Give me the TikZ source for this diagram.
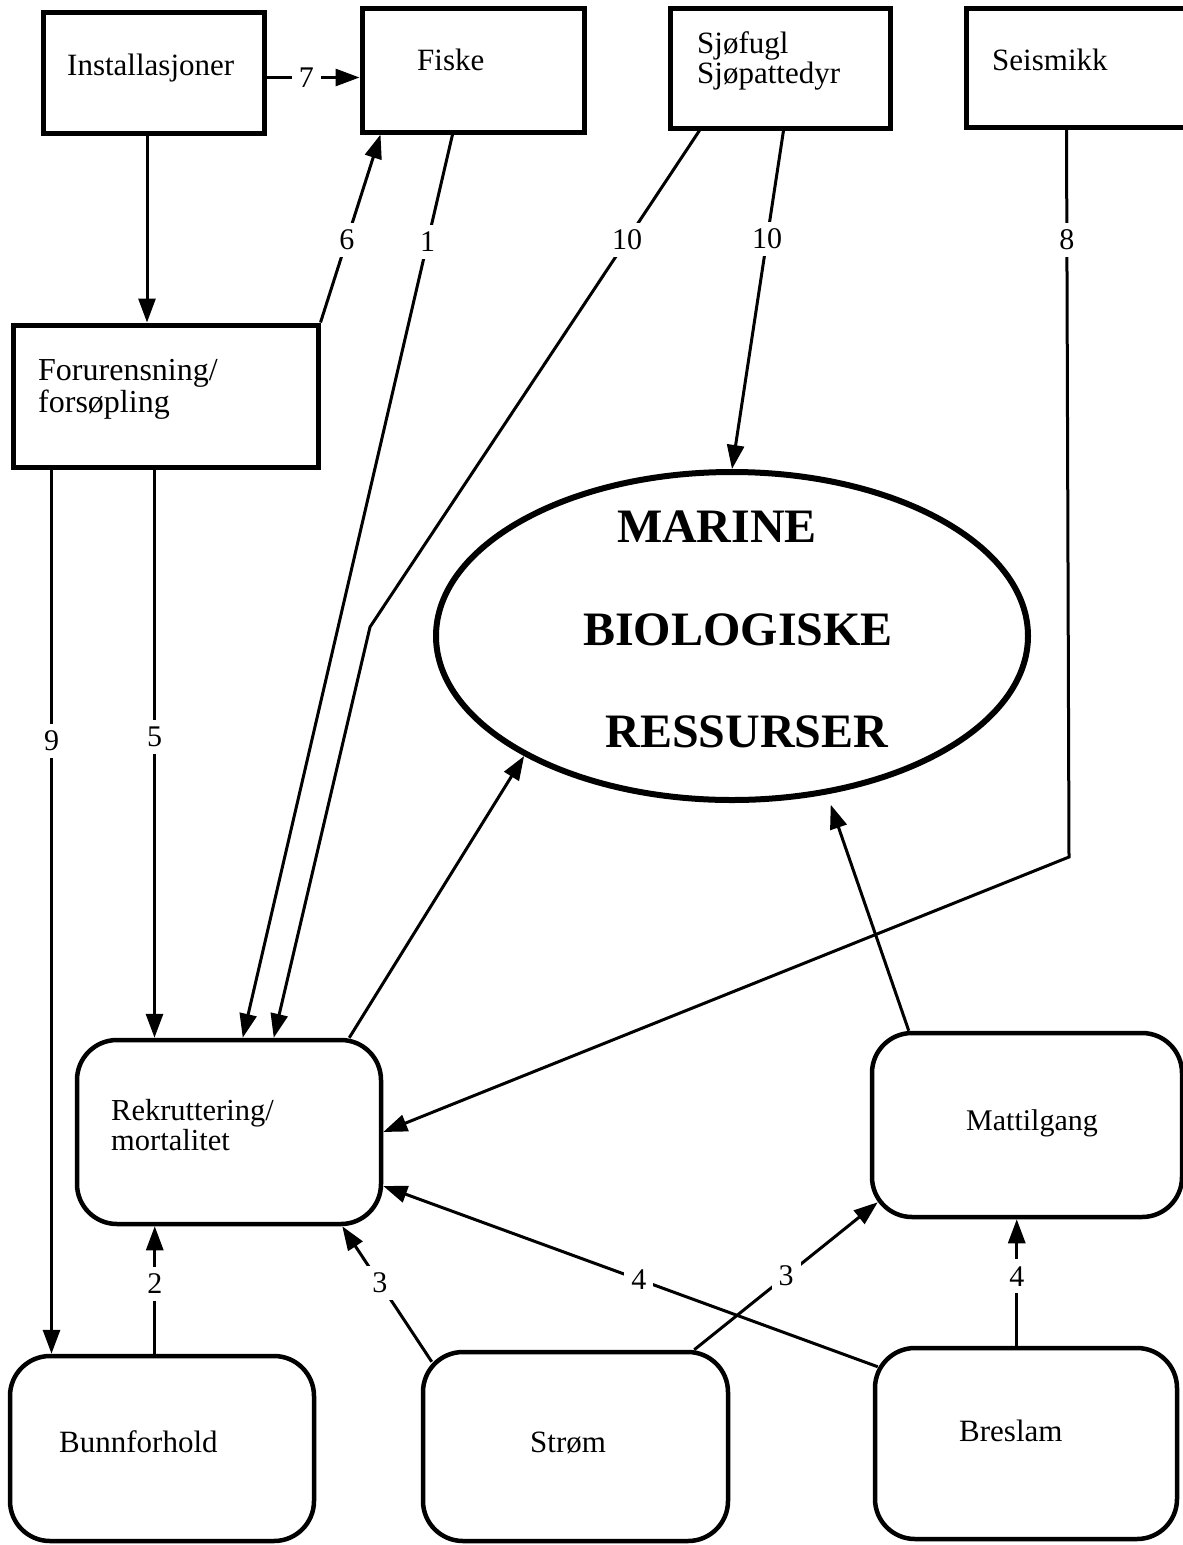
\documentclass[tikz,border=0pt]{standalone}
\usepackage{fontspec}
\setmainfont{Liberation Serif}
\usetikzlibrary{arrows.meta,shapes.geometric,calc}
\begin{document}
\begin{tikzpicture}[x=1pt,y=-1pt,
  sqbox/.style={draw,line width=5pt,rectangle,inner sep=0pt},
  rbox/.style={draw,line width=4.5pt,rectangle,rounded corners=40pt,inner sep=0pt},
  txt/.style={anchor=base west,inner sep=0pt,font=\fontsize{31}{31}\selectfont},
  smalltxt/.style={anchor=base west,inner sep=0pt,font=\fontsize{30.5}{30}\selectfont},
  link/.style={line width=3pt},
  arr/.style={link,-{Triangle[length=24pt,width=17pt]}},
  num/.style={fill=white,inner sep=7pt,font=\fontsize{30}{30}\selectfont},
  big/.style={anchor=base,inner sep=0pt,font=\fontsize{48}{48}\selectfont\bfseries}
]
\useasboundingbox (0,0) rectangle (1183,1545);

% top row of sources
\node[sqbox,minimum width=221pt,minimum height=121pt] (inst) at (153.5,72.5) {};
\node[sqbox,minimum width=222pt,minimum height=124pt] (fiske) at (473,70) {};
\node[sqbox,minimum width=220pt,minimum height=120pt] (sjo) at (780,68) {};
\node[sqbox,minimum width=229pt,minimum height=119pt] (seis) at (1080.5,67.5) {};
\node[sqbox,minimum width=305pt,minimum height=142pt] (foru) at (165.5,396) {};

\node[txt] (inst-t) at (67,75) {Installasjoner};
\node[txt] (fiske-t) at (417,70) {Fiske};
\node[txt] (sjo-t1) at (697,53) {Sjøfugl};
\node[txt] (sjo-t2) at (697,83) {Sjøpattedyr};
\node[txt] (seis-t) at (992,70) {Seismikk};
\node[smalltxt,font=\fontsize{32}{32}\selectfont] (foru-t1) at (38,380) {Forurensning/};
\node[smalltxt,font=\fontsize{32}{32}\selectfont] (foru-t2) at (38,412) {forsøpling};

% central resource
\node[draw,ellipse,line width=6pt,minimum width=592pt,minimum height=328pt,inner sep=0pt] (mbr) at (732,636) {};
\node[big] (mbr-t1) at (717,542) {MARINE};
\node[big] (mbr-t2) at (738,645) {BIOLOGISKE};
\node[big] (mbr-t3) at (747,747) {RESSURSER};

% rounded process boxes
\node[rbox,minimum width=304pt,minimum height=184pt] (rekr) at (229,1132) {};
\node[rbox,minimum width=310pt,minimum height=184pt] (matt) at (1027,1125) {};
\node[rbox,minimum width=304pt,minimum height=185pt] (bunn) at (162,1448.5) {};
\node[rbox,minimum width=305pt,minimum height=189pt] (strom) at (575.5,1446.5) {};
\node[rbox,minimum width=302pt,minimum height=191pt] (bres) at (1026,1443.5) {};

\node[smalltxt] (rekr-t1) at (111,1120) {Rekruttering/};
\node[smalltxt] (rekr-t2) at (111,1150) {mortalitet};
\node[txt,font=\fontsize{30}{30}\selectfont] (matt-t) at (966,1130) {Mattilgang};
\node[txt] (bunn-t) at (59,1452) {Bunnforhold};
\node[txt] (strom-t) at (530,1452) {Strøm};
\node[txt] (bres-t) at (959,1441) {Breslam};

% attachment points on the borders
\path ([yshift=-5pt]inst.east) coordinate (i7)
      ([xshift=-6.5pt]inst.south) coordinate (iA)
      ([xshift=21pt]fiske.south west) coordinate (f6)
      ([xshift=93pt]fiske.south west) coordinate (f1)
      ([xshift=32pt]sjo.south west) coordinate (s1)
      ([xshift=116pt]sjo.south west) coordinate (s2)
      ([xshift=103pt]seis.south west) coordinate (e8)
      ([xshift=41pt]foru.south west) coordinate (r9)
      ([xshift=144pt]foru.south west) coordinate (r5)
      ([xshift=168pt]rekr.north west) coordinate (k1)
      ([xshift=199pt]rekr.north west) coordinate (k10)
      ([xshift=-34pt]rekr.north east) coordinate (kE)
      ([xshift=-41pt]rekr.south east) coordinate (k3)
      ([yshift=-54pt]rekr.east) coordinate (k4)
      ([xshift=39pt]matt.north west) coordinate (m1)
      ([xshift=8pt,yshift=17pt]matt.south west) coordinate (m3)
      ([xshift=147pt]bunn.north west) coordinate (u2)
      ([xshift=11pt,yshift=-12pt]strom.north west) coordinate (t3)
      ([xshift=-36pt]strom.north east) coordinate (t3r)
      ([xshift=5pt,yshift=-21pt]bres.north west) coordinate (b4)
      ([xshift=144pt]bres.north west) coordinate (b4r);
\coordinate (b10) at (370,627);
\coordinate (b8) at (1069,857);

% connectors
\draw[arr] (i7) -- node[num,pos=.43]{7} (i7 -| fiske.west);
\draw[arr] (iA) -- (iA |- foru.north);
\draw[arr] (foru.north east) -- node[num,pos=.44]{6} (f6);
\draw[arr] (f1) -- node[num,pos=.119]{1} (k1);
\draw[arr] (s1) -- node[num,pos=.22]{10} (b10) -- (k10);
\draw[arr] (s2) -- node[num,pos=.32]{10} (mbr.north);
\draw[arr] (e8) -- node[num,pos=.152]{8} (b8) -- (rekr.east);
\draw[arr] (r9) -- node[num,pos=.307]{9} (r9 |- bunn.north);
\draw[arr] (r5) -- node[num,pos=.47]{5} (r5 |- rekr.north);
\draw[arr] (kE) -- (mbr.210);
\draw[arr,shorten >=11pt] (m1) -- (mbr.-59);
\draw[arr] (u2) -- node[num,pos=.55]{2} (u2 |- rekr.south);
\draw[arr] (t3) -- node[num,pos=.58]{3} (k3);
\draw[arr] (b4) -- node[num,pos=.483]{4} (k4);
\draw[arr] (t3r) -- node[num,pos=.5]{3} (m3);
\draw[arr] (b4r) -- node[num,pos=.55]{4} (b4r |- matt.south);
\end{tikzpicture}
\end{document}
